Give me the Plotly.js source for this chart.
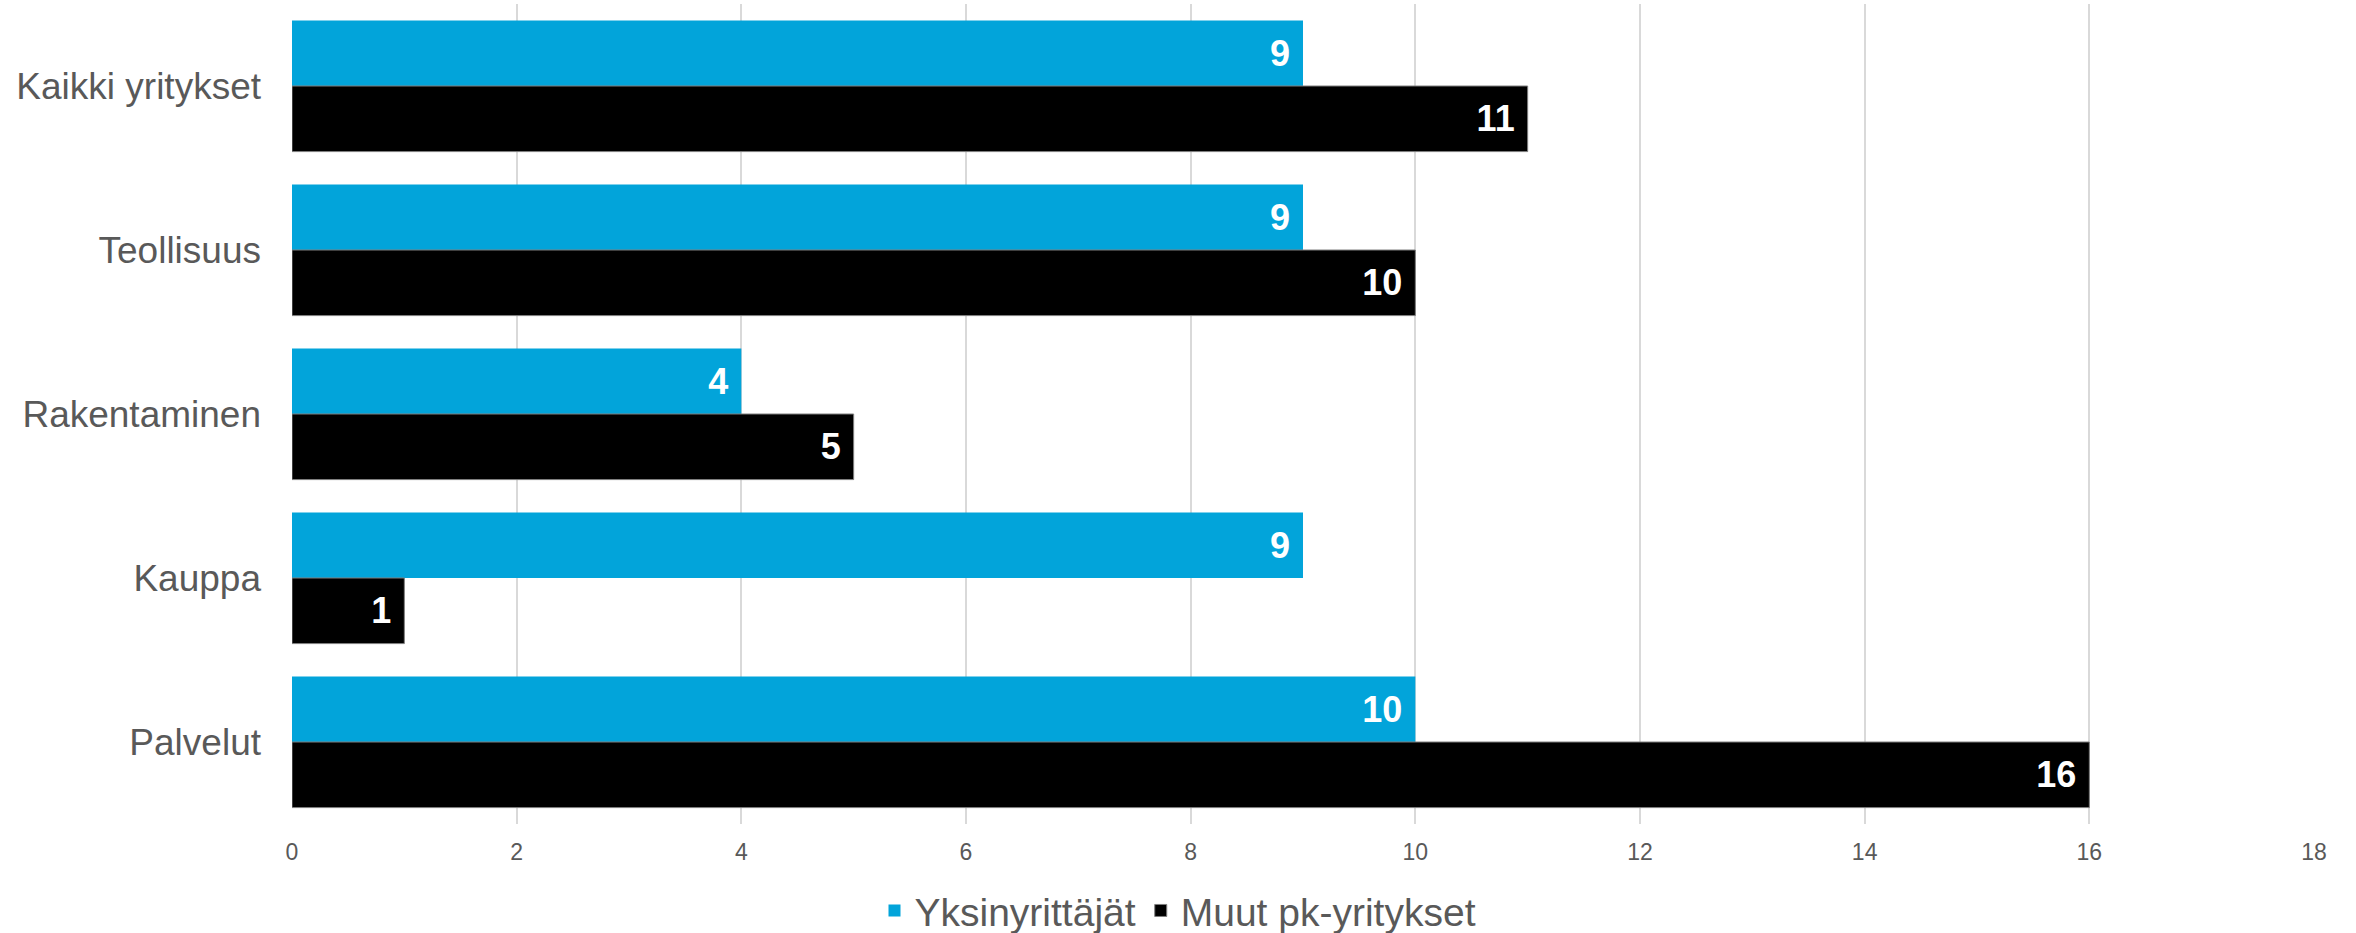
<!DOCTYPE html>
<html>
<head>
<meta charset="utf-8">
<script src="https://cdn.plot.ly/plotly-3.0.1.min.js"></script>
<style>html,body{margin:0;padding:0;background:#fff;}#chart{width:2356px;height:933px;}</style>
</head>
<body>
<div id="chart"></div>
<script>
const categories = ["Kaikki yritykset", "Teollisuus", "Rakentaminen", "Kauppa", "Palvelut"];
const seriesNames = ["Yksinyrittäjät", "Muut pk-yritykset"];
const yksinyrittajat = [9, 9, 4, 9, 10];
const muutPk = [11, 10, 5, 1, 16];
const xTicks = [0, 2, 4, 6, 8, 10, 12, 14, 16, 18];

const FONT = "Liberation Sans, Arial, sans-serif";
const labelFont = {family: FONT, size: 36, color: "#ffffff", weight: "bold"};

const traces = [
  {
    type: "bar", orientation: "h", name: seriesNames[0],
    y: categories, x: yksinyrittajat,
    marker: {color: "#02A4DA"},
    text: yksinyrittajat.map(v => v + "\u00a0"),
    textposition: "inside", insidetextanchor: "end", textangle: 0,
    textfont: labelFont, insidetextfont: labelFont,
    hoverinfo: "x+y"
  },
  {
    type: "bar", orientation: "h", name: seriesNames[1],
    y: categories, x: muutPk,
    marker: {color: "#000000", line: {color: "#7f7f7f", width: 1}},
    text: muutPk.map(v => v + "\u00a0"),
    textposition: "inside", insidetextanchor: "end", textangle: 0,
    textfont: labelFont, insidetextfont: labelFont,
    hoverinfo: "x+y"
  }
];

const layout = {
  width: 2356, height: 933,
  margin: {l: 292, r: 42, t: 4, b: 109, pad: 0},
  paper_bgcolor: "#ffffff", plot_bgcolor: "#ffffff",
  barmode: "group", bargap: 0.2, bargroupgap: 0,
  font: {family: FONT, color: "#595959"},
  showlegend: true,
  legend: {
    orientation: "h", xref: "container", x: 0.5, xanchor: "center",
    yref: "container", y: 0.024, yanchor: "middle",
    font: {family: FONT, size: 39, color: "#595959"},
    traceorder: "normal", itemclick: false, itemdoubleclick: false,
    itemwidth: 30
  },
  xaxis: {
    range: [0, 18], tickvals: xTicks, ticktext: xTicks.map(String),
    showgrid: true, gridcolor: "#d9d9d9", gridwidth: 2,
    zeroline: false, showline: false, ticks: "",
    tickfont: {family: FONT, size: 23, color: "#595959"},
    ticklabelstandoff: 12, fixedrange: true
  },
  yaxis: {
    type: "category", autorange: "reversed",
    showgrid: false, zeroline: false, showline: false, ticks: "",
    tickfont: {family: FONT, size: 37, color: "#595959"},
    ticklabelstandoff: 30, fixedrange: true
  }
};

Plotly.newPlot("chart", traces, layout, {displayModeBar: false, staticPlot: true});
</script>
</body>
</html>
